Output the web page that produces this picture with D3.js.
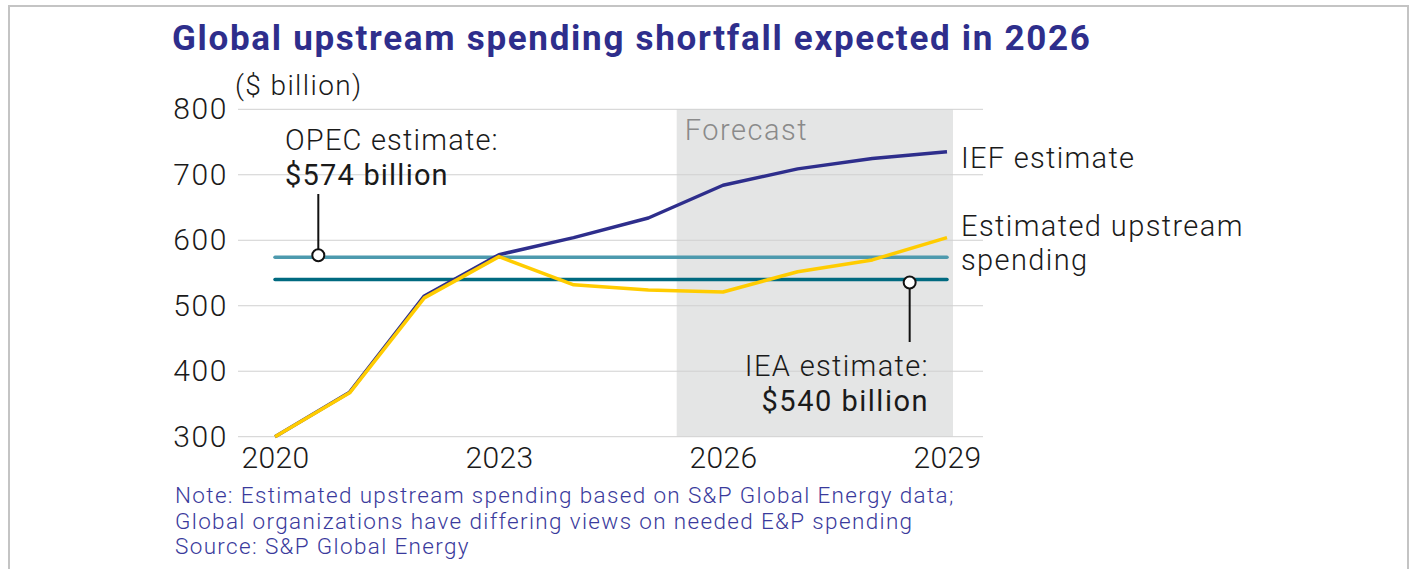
<!DOCTYPE html>
<html>
<head>
<meta charset="utf-8">
<script src="https://cdn.jsdelivr.net/npm/d3@7"></script>
<style>
  html, body { margin: 0; padding: 0; background: #fff; }
  svg { display: block; font-family: Roboto, "Open Sans", sans-serif; }
</style>
</head>
<body>
<svg id="chart" width="1412" height="569"></svg>
<script>
// chart values
const years = [2020, 2021, 2022, 2023, 2024, 2025, 2026, 2027, 2028, 2029];
const iefEstimate = [300, 368, 515, 578, 604, 634, 684, 709, 725, 735];
const upstreamSpending = [300, 367, 512, 575, 532, 524, 521, 552, 570, 604];
const opecEstimate = 574;
const ieaEstimate = 540;
const yTicks = [300, 400, 500, 600, 700, 800];
const xTicks = [2020, 2023, 2026, 2029];
const forecastSpan = [2025.38, 2029.08];
const noteLines = [
  'Note: Estimated upstream spending based on S&P Global Energy data;',
  'Global organizations have differing views on needed E&P spending',
  'Source: S&P Global Energy',
];

const colors = {
  title: '#2e2e8c',
  ief: '#2e2e8c',
  upstream: '#ffcc00',
  opec: '#4d9aae',
  iea: '#006a80',
  grid: '#d0d0d0',
  band: '#e4e5e5',
  text: '#1a1a1a',
  note: '#3a3a9c',
};

const svg = d3.select('#chart');

// frame
svg.append('path')
  .attr('d', 'M9,580 V6 H1408 V580')
  .attr('fill', 'none')
  .attr('stroke', '#c4c4c4')
  .attr('stroke-width', 2);

const x = d3.scaleLinear().domain([2020, 2029]).range([275, 947]);
const y = d3.scaleLinear().domain([300, 800]).range([436.7, 109.3]);

// shared style for the light annotation text
const label = (sel, size = 29, weight = 300, spacing = 1.1) => sel
  .attr('font-size', size)
  .attr('font-weight', weight)
  .attr('letter-spacing', spacing)
  .attr('fill', colors.text);

// forecast band
svg.append('rect')
  .attr('x', x(forecastSpan[0]))
  .attr('y', y(800))
  .attr('width', x(forecastSpan[1]) - x(forecastSpan[0]))
  .attr('height', y(300) - y(800))
  .attr('fill', colors.band);

svg.append('text')
  .attr('x', x(forecastSpan[0]) + 8)
  .attr('y', 140)
  .call(label, 29, 300, 1.5)
  .attr('fill', '#8a8a8a')
  .text('Forecast');

// gridlines
svg.append('g')
  .selectAll('line')
  .data(yTicks)
  .join('line')
  .attr('x1', 238)
  .attr('x2', 983)
  .attr('y1', d => y(d))
  .attr('y2', d => y(d))
  .attr('stroke', colors.grid)
  .attr('stroke-width', 1);

// y axis labels
const yAxis = svg.append('g')
  .attr('transform', 'translate(228,0)')
  .call(d3.axisLeft(y).tickValues(yTicks).tickSize(0).tickPadding(0));
yAxis.select('.domain').remove();
yAxis.selectAll('text')
  .attr('font-family', 'Roboto, sans-serif')
  .call(label, 30, 300, 1.6)
  .attr('dy', '0.32em');

// x axis labels
const xAxis = svg.append('g')
  .attr('transform', `translate(0,${y(300)})`)
  .call(d3.axisBottom(x).tickValues(xTicks).tickFormat(d3.format('d')).tickSize(0).tickPadding(10));
xAxis.select('.domain').remove();
xAxis.selectAll('text')
  .attr('font-family', 'Roboto, sans-serif')
  .call(label, 30, 300, 0.4)
  .attr('dy', '0.71em');

// reference lines
const refLine = (value, color) => svg.append('line')
  .attr('x1', x(2020))
  .attr('x2', x(2029))
  .attr('y1', y(value))
  .attr('y2', y(value))
  .attr('stroke', color)
  .attr('stroke-width', 3.5)
  .attr('stroke-linecap', 'round');
refLine(opecEstimate, colors.opec);
refLine(ieaEstimate, colors.iea);

// series lines
const line = d3.line().x((d, i) => x(years[i])).y(d => y(d));
svg.append('path')
  .attr('d', line(iefEstimate))
  .attr('fill', 'none')
  .attr('stroke', colors.ief)
  .attr('stroke-width', 3.5)
  .attr('stroke-linejoin', 'round');
svg.append('path')
  .attr('d', line(upstreamSpending))
  .attr('fill', 'none')
  .attr('stroke', colors.upstream)
  .attr('stroke-width', 3.5)
  .attr('stroke-linejoin', 'round');

// OPEC callout
const opecX = x(2020.58);
svg.append('line')
  .attr('x1', opecX).attr('x2', opecX)
  .attr('y1', 194).attr('y2', y(opecEstimate) - 2)
  .attr('stroke', '#111').attr('stroke-width', 2);
svg.append('circle')
  .attr('cx', opecX).attr('cy', y(opecEstimate) - 2).attr('r', 6)
  .attr('fill', '#fff').attr('stroke', '#111').attr('stroke-width', 2);
svg.append('text')
  .attr('x', 285).attr('y', 150)
  .call(label, 29, 300, 1.2)
  .text('OPEC estimate:');
svg.append('text')
  .attr('x', 285).attr('y', 185)
  .call(label, 29, 400, 1.2)
  .text('$574 billion');

// IEA callout
const ieaX = x(2028.5);
svg.append('line')
  .attr('x1', ieaX).attr('x2', ieaX)
  .attr('y1', y(ieaEstimate) + 3).attr('y2', 342)
  .attr('stroke', '#111').attr('stroke-width', 2);
svg.append('circle')
  .attr('cx', ieaX).attr('cy', y(ieaEstimate) + 3).attr('r', 6)
  .attr('fill', '#fff').attr('stroke', '#111').attr('stroke-width', 2);
svg.append('text')
  .attr('x', 929).attr('y', 376).attr('text-anchor', 'end')
  .call(label, 29, 300, 1.35)
  .text('IEA estimate:');
svg.append('text')
  .attr('x', 929).attr('y', 411).attr('text-anchor', 'end')
  .call(label, 29, 400, 1.5)
  .text('$540 billion');

// series labels
svg.append('text')
  .attr('x', 961).attr('y', y(iefEstimate[iefEstimate.length - 1]) + 16)
  .call(label, 29, 300, 1.3)
  .text('IEF estimate');
const upLabel = svg.append('text')
  .attr('x', 961).attr('y', 236)
  .call(label, 29, 300, 1.4);
upLabel.append('tspan').attr('x', 961).text('Estimated upstream');
upLabel.append('tspan').attr('x', 961).attr('dy', 34).text('spending');

// title and unit
svg.append('text')
  .attr('x', 172).attr('y', 50)
  .attr('font-size', 35).attr('font-weight', 700)
  .attr('letter-spacing', 1.7)
  .attr('fill', colors.title)
  .text('Global upstream spending shortfall expected in 2026');
svg.append('text')
  .attr('x', 235).attr('y', 95)
  .call(label, 28, 300, 1.4)
  .text('($ billion)');

// notes
svg.append('g')
  .selectAll('text')
  .data(noteLines)
  .join('text')
  .attr('x', 175)
  .attr('y', (d, i) => 503 + i * 25.5)
  .attr('font-size', 22.5)
  .attr('font-weight', 300)
  .attr('letter-spacing', 1.35)
  .attr('fill', colors.note)
  .text(d => d);
</script>
</body>
</html>
